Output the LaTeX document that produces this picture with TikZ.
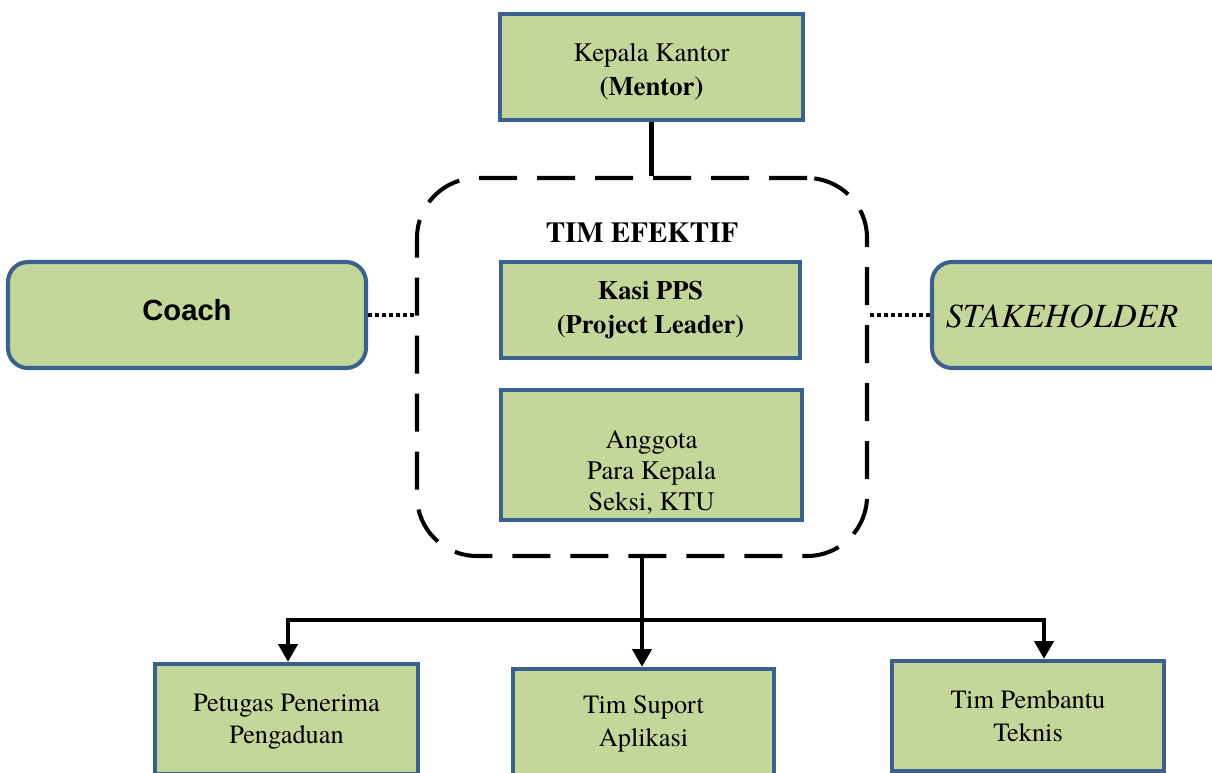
\documentclass[tikz,border=0pt]{standalone}
\usepackage{fontspec}
\setmainfont{texgyretermes}[Extension=.otf, UprightFont=*-regular, BoldFont=*-bold, ItalicFont=*-italic, BoldItalicFont=*-bolditalic]
\setsansfont{Liberation Sans}
\usetikzlibrary{arrows.meta}
\definecolor{boxfill}{RGB}{196,215,155}
\definecolor{boxline}{RGB}{60,96,140}
\tikzset{
  sqbox/.style={draw=boxline, fill=boxfill, line width=2.6pt, align=center, inner sep=0pt,
     font=\fontsize{15.2}{19.2}\selectfont},
  rbox/.style={sqbox, rounded corners=0.4cm, line width=2.3pt},
  teambox/.style={draw=black, line width=2.3pt, dash pattern=on 0.76cm off 0.4cm, rounded corners=1.2cm},
  dotline/.style={draw=black, line width=1.8pt, dash pattern=on 2pt off 2pt},
  solidline/.style={draw=black, line width=2.3pt},
  arrowline/.style={draw=black, line width=1.8pt, -{Triangle[width=11pt,length=10pt]}},
}
\begin{document}
\begin{tikzpicture}[x=0.02cm,y=-0.02cm]
\useasboundingbox (0,0) rectangle (1212,772);
% boxes
\node[sqbox, minimum width=303*0.02cm, minimum height=106*0.02cm] (kk) at (651.5,67)
  {\rule{0pt}{16pt}Kepala Kantor\\\textbf{(Mentor)}};
\node[teambox, minimum width=450*0.02cm, minimum height=378*0.02cm] (tim) at (642,367) {};
\node[font=\fontsize{16.5}{20}\selectfont\bfseries] (timlabel) at (642,233) {TIM EFEKTIF};
\node[sqbox, minimum width=299*0.02cm, minimum height=96*0.02cm, font=\fontsize{15.1}{19.8}\selectfont\bfseries] (kasi) at (650.5,310)
  {Kasi PPS\\(Project Leader)};
\node[sqbox, minimum width=301*0.02cm, minimum height=130*0.02cm, font=\fontsize{15.2}{17.6}\selectfont] (ang) at (651.5,455)
  {\rule{0pt}{30pt}Anggota\\Para Kepala\\Seksi, KTU};
\node[rbox, minimum width=358*0.02cm, minimum height=106*0.02cm, font=\sffamily\bfseries\fontsize{16.6}{20}\selectfont] (coach) at (187,315) {Coach\rule[-5.6pt]{0pt}{5.6pt}};
\node[rbox, minimum width=300*0.02cm, minimum height=106*0.02cm] (stake) at (1082,315) {};
\node[font=\itshape\fontsize{19.3}{22}\selectfont] (staketext) at (1062,316) {STAKEHOLDER};
\node[sqbox, minimum width=263*0.02cm, minimum height=110*0.02cm, font=\fontsize{15}{18.7}\selectfont] (pet) at (286.5,719)
  {\rule{0pt}{13pt}Petugas Penerima\\Pengaduan};
\node[sqbox, minimum width=261*0.02cm, minimum height=110*0.02cm, font=\fontsize{15}{18.7}\selectfont] (sup) at (643.5,724)
  {Tim Suport\\Aplikasi};
\node[sqbox, minimum width=272*0.02cm, minimum height=110*0.02cm, font=\fontsize{15}{18.7}\selectfont] (pem) at (1028,716)
  {Tim Pembantu\\Teknis};
% connectors
\draw[solidline] (kk.south) -- (kk.south |- tim.north);
\draw[dotline] (coach.east) -- (tim.west |- coach.east);
\draw[dotline] (stake.west) -- (tim.east |- stake.west);
\coordinate (bus) at (642,620);
\draw[arrowline] (tim.south) -- (tim.south |- sup.north);
\draw[arrowline] (bus) -| ([xshift=1.5*0.02cm]pet.north);
\draw[arrowline] (bus) -| ([xshift=16*0.02cm]pem.north);
\end{tikzpicture}
\end{document}
